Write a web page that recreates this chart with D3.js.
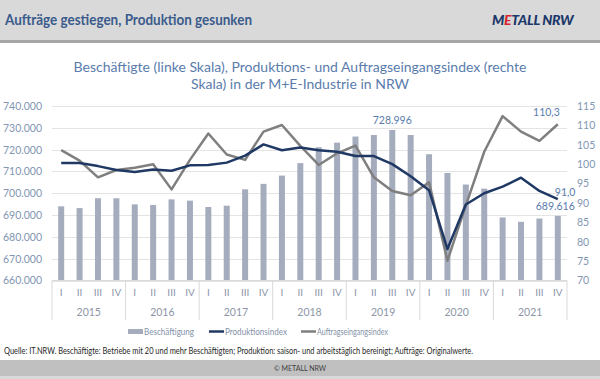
<!DOCTYPE html>
<html>
<head>
<meta charset="utf-8">
<script src="https://cdn.jsdelivr.net/npm/d3@7"></script>
<style>
body { margin: 0; background: #fff; }
svg { display: block; font-family: Lato, "Open Sans", sans-serif; }
</style>
</head>
<body>
<svg width="600" height="379"></svg>
<script>
// Kategorien
const years = ["2015", "2016", "2017", "2018", "2019", "2020", "2021"];
const quarters = ["I", "II", "III", "IV"];

// Beschäftigte (linke Skala)
const beschaeftigung = [
    694000, 693200, 697700, 697700,
    694900, 694600, 697200, 696600,
    693700, 694300, 701800, 704300,
    708100, 713800, 721100, 723200,
    726000, 726700, 728996, 726700,
    717900, 709300, 704000, 702100,
    688900, 686900, 688400, 689616
];
// Produktionsindex (rechte Skala)
const produktion = [
    100.3, 100.3, 99.5, 98.5,
    98.0, 98.6, 98.3, 99.7,
    99.8, 100.4, 102.2, 105.1,
    103.6, 104.3, 103.6, 103.2,
    102.1, 102.1, 100.0, 96.9,
    93.3, 78.1, 89.6, 92.5,
    94.2, 96.5, 93.1, 91.0
];
// Auftragseingangsindex (rechte Skala)
const auftrag = [
    103.6, 100.9, 96.6, 98.5,
    99.1, 100.0, 93.5, 101.1,
    107.9, 102.5, 101.1, 108.4,
    110.1, 104.7, 99.8, 102.8,
    104.8, 96.6, 93.1, 92.0,
    95.3, 75.1, 89.4, 103.2,
    112.4, 108.4, 106.0, 110.3
];
const leftTicks = [660000, 670000, 680000, 690000, 700000, 710000, 720000, 730000, 740000];
const rightTicks = [70, 75, 80, 85, 90, 95, 100, 105, 110, 115];

const keys = [];
years.forEach(y => quarters.forEach(q => keys.push(y + "-" + q)));

const de = d3.formatLocale({decimal: ",", thousands: ".", grouping: [3], currency: ["", " €"]});
const fmtInt = de.format(",d");
const fmtOne = de.format(",.1f");

const svg = d3.select("svg");
const W = 600, H = 379;

// Kopfzeile
svg.append("rect").attr("x", 0).attr("y", 0).attr("width", W).attr("height", 41).attr("fill", "#d9d9d9");
svg.append("rect").attr("x", 0).attr("y", 40).attr("width", W).attr("height", 3).attr("fill", "#a6a6a6");
svg.append("text").attr("x", 5).attr("y", 25)
    .attr("font-size", 15).attr("font-weight", "bold").attr("fill", "#3b5b8c")
    .attr("textLength", 247).attr("lengthAdjust", "spacingAndGlyphs")
    .text("Aufträge gestiegen, Produktion gesunken");
const logo = svg.append("text").attr("x", 492).attr("y", 25)
    .attr("font-size", 14).attr("font-weight", "900").attr("font-style", "italic")
    .attr("fill", "#1c3769").attr("letter-spacing", -0.3);
logo.append("tspan").text("M");
logo.append("tspan").attr("fill", "#d7262f").text("E");
logo.append("tspan").text("TALL NRW");

// Fußzeile
svg.append("rect").attr("x", 0).attr("y", 360).attr("width", W).attr("height", 16).attr("fill", "#c0c0c0");
svg.append("rect").attr("x", 0).attr("y", 376).attr("width", W).attr("height", 3).attr("fill", "#d9d9d9");
svg.append("text").attr("x", W / 2).attr("y", 371).attr("text-anchor", "middle")
    .attr("font-size", 7).attr("fill", "#404040").text("© METALL NRW");

// Diagrammtitel
const title = svg.append("text").attr("text-anchor", "middle").attr("fill", "#5a7cad").attr("font-size", 14);
title.append("tspan").attr("x", 300).attr("y", 72)
    .text("Beschäftigte (linke Skala), Produktions- und Auftragseingangsindex (rechte");
title.append("tspan").attr("x", 300).attr("y", 89)
    .text("Skala) in der M+E-Industrie in NRW");

// Zeichenfläche
const area = {left: 52, right: 567, top: 106, bottom: 280.5};

const scX = d3.scaleBand().domain(keys).range([area.left, area.right]);
const scL = d3.scaleLinear().domain([660000, 740000]).range([area.bottom, area.top]);
const scR = d3.scaleLinear().domain([70, 115]).range([area.bottom, area.top]);

// Gitterlinien
svg.append("g").selectAll("line").data(leftTicks).enter().append("line")
    .attr("x1", area.left).attr("x2", area.right)
    .attr("y1", d => Math.round(scL(d)) + 0.5).attr("y2", d => Math.round(scL(d)) + 0.5)
    .attr("stroke", "#e4e4e4").attr("stroke-width", 1);

// Achsen
const axL = svg.append("g").attr("transform", `translate(${area.left},0)`)
    .call(d3.axisLeft(scL).tickValues(leftTicks).tickFormat(fmtInt).tickSize(0).tickPadding(10));
axL.select(".domain").remove();
axL.selectAll("text").attr("font-size", 10.5).attr("fill", "#8296b3").attr("font-family", "Lato, sans-serif");

const axR = svg.append("g").attr("transform", `translate(${area.right},0)`)
    .call(d3.axisRight(scR).tickValues(rightTicks).tickSize(0).tickPadding(10));
axR.select(".domain").remove();
axR.selectAll("text").attr("font-size", 10.5).attr("fill", "#8296b3").attr("font-family", "Lato, sans-serif");

// Balken
const barW = 6;
svg.append("g").selectAll("rect").data(beschaeftigung).enter().append("rect")
    .attr("x", (d, i) => scX(keys[i]) + scX.bandwidth() / 2 - barW / 2)
    .attr("width", barW)
    .attr("y", d => scL(d))
    .attr("height", d => area.bottom - scL(d))
    .attr("fill", "#a5acbe");

// Linien
const line = d3.line()
    .x((d, i) => scX(keys[i]) + scX.bandwidth() / 2)
    .y(d => scR(d));
svg.append("path").datum(auftrag).attr("d", line)
    .attr("fill", "none").attr("stroke", "#7f7f7f").attr("stroke-width", 2.5).attr("stroke-linejoin", "round");
svg.append("path").datum(produktion).attr("d", line)
    .attr("fill", "none").attr("stroke", "#1f3864").attr("stroke-width", 2.5).attr("stroke-linejoin", "round");

// Kategorienachse
const gx = svg.append("g");
gx.append("line").attr("x1", area.left).attr("x2", area.right)
    .attr("y1", area.bottom).attr("y2", area.bottom).attr("stroke", "#d9d9d9");
gx.selectAll(".sep").data(d3.range(years.length + 1)).enter().append("line")
    .attr("x1", i => i < years.length ? scX(keys[i * 4]) : area.right)
    .attr("x2", i => i < years.length ? scX(keys[i * 4]) : area.right)
    .attr("y1", area.bottom).attr("y2", 320)
    .attr("stroke", "#d9d9d9");
gx.selectAll(".q").data(keys).enter().append("text")
    .attr("x", d => scX(d) + scX.bandwidth() / 2).attr("y", 296)
    .attr("text-anchor", "middle").attr("font-size", 10).attr("fill", "#8c96a8")
    .text(d => d.split("-")[1]);
gx.selectAll(".y").data(years).enter().append("text")
    .attr("x", (d, i) => scX(keys[i * 4]) + scX.bandwidth() * 2).attr("y", 316)
    .attr("text-anchor", "middle").attr("font-size", 10.5).attr("fill", "#8c96a8")
    .text(d => d);

// Datenbeschriftungen
const lbl = (x, y, t, anchor) => svg.append("text").attr("x", x).attr("y", y)
    .attr("text-anchor", anchor).attr("font-size", 10.5).attr("fill", "#5a7cad").text(t);
const i19 = keys.indexOf("2019-III");
lbl(scX(keys[i19]) + scX.bandwidth() / 2, scL(beschaeftigung[i19]) - 6, fmtInt(beschaeftigung[i19]), "middle");
const last = keys.length - 1;
const cxLast = scX(keys[last]) + scX.bandwidth() / 2;
lbl(cxLast + 2, scR(auftrag[last]) - 8, fmtOne(auftrag[last]), "end");
lbl(cxLast - 3, scR(produktion[last]) - 3, fmtOne(produktion[last]), "start");
lbl(cxLast + 17, scL(beschaeftigung[last]) - 6, fmtInt(beschaeftigung[last]), "end");

// Legende
const legend = svg.append("g").attr("font-size", 10).attr("fill", "#8391a8");
const legText = (x, len, t) => legend.append("text").attr("x", x).attr("y", 335)
    .attr("textLength", len).attr("lengthAdjust", "spacingAndGlyphs").text(t);
legend.append("rect").attr("x", 128).attr("y", 329).attr("width", 15).attr("height", 5).attr("fill", "#a5acbe");
legText(144, 50, "Beschäftigung");
legend.append("line").attr("x1", 209).attr("x2", 224).attr("y1", 331.5).attr("y2", 331.5)
    .attr("stroke", "#1f3864").attr("stroke-width", 2.5);
legText(225, 62, "Produktionsindex");
legend.append("line").attr("x1", 301).attr("x2", 316).attr("y1", 331.5).attr("y2", 331.5)
    .attr("stroke", "#7f7f7f").attr("stroke-width", 2.5);
legText(317, 71, "Auftragseingangsindex");

// Quelle
svg.append("text").attr("x", 4).attr("y", 354).attr("font-size", 8.5).attr("fill", "#262626")
    .attr("textLength", 469).attr("lengthAdjust", "spacingAndGlyphs")
    .text("Quelle: IT.NRW. Beschäftigte: Betriebe mit 20 und mehr Beschäftigten; Produktion: saison- und arbeitstäglich bereinigt; Aufträge: Originalwerte.");
</script>
</body>
</html>
